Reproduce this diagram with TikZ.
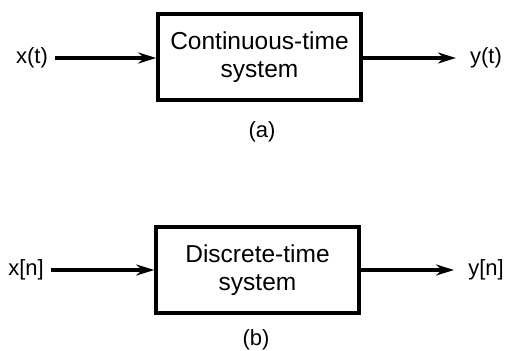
\documentclass[tikz,border=0pt]{standalone}
\usepackage{fontspec}
\setmainfont{Liberation Sans}
\usepackage{tikz}
\usetikzlibrary{arrows.meta}

\begin{document}
\begin{tikzpicture}[x=1pt,y=1pt,
 sysbox/.style={draw,line width=3.5pt,minimum width=203pt,minimum height=86pt,
  align=center,font=\fontsize{24.5}{28}\selectfont},
 sig/.style={font=\fontsize{22}{26}\selectfont,inner sep=2pt},
 flow/.style={line width=3.5pt,-{Stealth[length=18pt,width=11pt]}}]
 \useasboundingbox (0,0) rectangle (507,-351);
 % (a) continuous-time
 \node[sysbox] (ct) at (259.5,-57) {Continuous-time\\system};
 \node[sig] (xt) at (32,-58) {x(t)};
 \node[sig] (yt) at (486,-58) {y(t)};
 \draw[flow,shorten <=5pt] (xt.east) -- (ct.west |- xt.east);
 \draw[flow,shorten >=12pt] (ct.east |- yt.west) -- (yt.west);
 \node[sig] (capa) at (262,-132) {(a)};
 % (b) discrete-time
 \node[sysbox] (dt) at (257.5,-270) {Discrete-time\\system};
 \node[sig] (xn) at (26,-270) {x[n]};
 \node[sig] (yn) at (486,-270) {y[n]};
 \draw[flow,shorten <=5pt] (xn.east) -- (dt.west |- xn.east);
 \draw[flow,shorten >=12pt] (dt.east |- yn.west) -- (yn.west);
 \node[sig] (capb) at (256,-340) {(b)};
\end{tikzpicture}
\end{document}
